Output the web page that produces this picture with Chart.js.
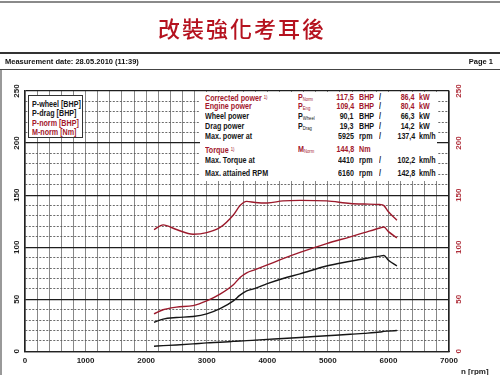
<!DOCTYPE html>
<html>
<head>
<meta charset="utf-8">
<script src="https://cdn.jsdelivr.net/npm/chart.js@4.4.1/dist/chart.umd.min.js"></script>
<style>
  html,body{margin:0;padding:0;background:#fff;}
  #wrap{position:relative;width:500px;height:375px;overflow:hidden;background:#fff;font-family:"Liberation Sans",Arial,sans-serif;}
  canvas{position:absolute;left:0;top:0;}
  .abs{position:absolute;white-space:nowrap;}
  .hl{position:absolute;left:0;width:500px;}
  .red{color:#a3182c;}
  .blk{color:#151515;}
  #title{position:absolute;left:0;width:484px;top:11px;text-align:center;font-family:"Noto Sans CJK TC","Noto Sans CJK SC",serif;font-size:22px;font-weight:500;letter-spacing:2px;color:#b5121f;}
  .hdr{font-size:7.5px;font-weight:bold;color:#111;top:57px;}
  #legend{position:absolute;left:28px;top:95px;width:55px;height:43px;background:#fff;border:1px solid #333;box-sizing:border-box;}
  #legend div{position:absolute;left:3px;white-space:nowrap;font-size:8.5px;line-height:9px;font-weight:bold;transform:scaleX(0.84);transform-origin:left center;}
  #table{position:absolute;left:200px;top:92px;width:237px;height:89px;background:#fff;}
  .t{position:absolute;white-space:nowrap;font-weight:bold;font-size:8.5px;line-height:10px;transform:scaleX(0.84);transform-origin:left center;}
  .t.r{text-align:right;transform-origin:right center;}
  .t sub{font-size:5px;vertical-align:-1px;font-weight:normal;}
  .t sup{font-size:5px;vertical-align:2px;font-weight:normal;}
  #nrpm{position:absolute;left:461px;top:367px;font-size:8px;font-weight:bold;color:#222;}
</style>
</head>
<body>
<div id="wrap">
  <canvas id="c" width="500" height="375"></canvas>
  <div class="hl" style="top:1px;height:2px;background:#8a8a8a;"></div>
  <div id="title">改裝強化考耳後</div>
  <div class="hl" style="top:52px;height:2px;background:#333;"></div>
  <div class="abs hdr" style="left:5px;">Measurement date: 28.05.2010 (11:39)</div>
  <div class="abs hdr" style="right:7px;">Page 1</div>
  <div class="hl" style="top:69px;height:1px;background:#444;"></div>
  <div style="position:absolute;left:0;top:70px;width:2px;height:305px;background:#999;"></div>
  <div id="legend"></div>
  <div id="table"></div>
  <div id="nrpm">n [rpm]</div>
</div>
<script>
// ---- data ----
const rpm      = [2130, 2280, 2500, 2775, 3000, 3220, 3440, 3550, 3660, 3800, 4000, 4260, 4540, 4980, 5370, 5600, 5860, 5925, 6000, 6140];
const pWheel   = [28, 31, 32.5, 33.5, 36, 41, 48.5, 54, 58, 60.5, 65, 70, 74.5, 82, 86.5, 89, 91.5, 92, 87.5, 82];
const pDrag    = [5, 5.5, 6.2, 7.2, 8.2, 8.8, 9.6, 10, 10.3, 10.8, 11.5, 12.4, 13.4, 15, 16.4, 17.3, 18.6, 19.2, 19.5, 20];
const pNorm    = [36, 40, 42.5, 44, 48.5, 55, 64, 71, 75.5, 78.5, 83, 89, 95, 103.5, 110, 114, 118.5, 119.5, 115, 109];
const mNorm    = [117, 121.5, 117, 112.5, 114, 119, 131, 140, 144, 143, 142.5, 144.5, 145, 144.5, 142, 141.5, 141, 140, 134, 126];
const xTickLabels = [0, 1000, 2000, 3000, 4000, 5000, 6000, 7000];
const yTickLabels = [0, 50, 100, 150, 200, 250];
const legendNames = ["P-wheel [BHP]", "P-drag [BHP]", "P-norm [BHP]", "M-norm [Nm]"];
const legendRed   = [false, false, true, true];
// results table: label, symbol, subscript, value1, unit1, value2, unit2, red, footnote
const tableRows = [
  ["Corrected power", "P", "Norm", "117,5", "BHP", "86,4", "kW", true, true],
  ["Engine power", "P", "Eng", "109,4", "BHP", "80,4", "kW", true, false],
  ["Wheel power", "P", "Wheel", "90,1", "BHP", "66,3", "kW", false, false],
  ["Drag power", "P", "Drag", "19,3", "BHP", "14,2", "kW", false, false],
  ["Max. power at", "", "", "5925", "rpm", "137,4", "km/h", false, false],
  ["Torque", "M", "Norm", "144,8", "Nm", "", "", true, true],
  ["Max. Torque at", "", "", "4410", "rpm", "102,2", "km/h", false, false],
  ["Max. attained RPM", "", "", "6160", "rpm", "142,8", "km/h", false, false]
];
const rowY = [97, 106, 116, 126, 136, 149, 160, 173];

// ---- overlays ----
const leg = document.getElementById('legend');
legendNames.forEach((n, i) => {
  const d = document.createElement('div');
  d.textContent = n;
  d.className = legendRed[i] ? 'red' : 'blk';
  d.style.top = (3.5 + i * 9.6) + 'px';
  leg.appendChild(d);
});
const tb = document.getElementById('table');
const T0x = 200, T0y = 92;
function put(txt, x, y, cls, right, html) {
  const d = document.createElement('div');
  d.className = 't ' + cls + (right ? ' r' : '');
  if (html) d.innerHTML = txt; else d.textContent = txt;
  d.style.top = (y - T0y - 5) + 'px';
  if (right) { d.style.right = (T0x + 237 - x) + 'px'; } else { d.style.left = (x - T0x) + 'px'; }
  tb.appendChild(d);
}
tableRows.forEach((r, i) => {
  const y = rowY[i];
  const c = r[7] ? 'red' : 'blk';
  put(r[0] + (r[8] ? ' <sup>1)</sup>' : ''), 205, y, c, false, true);
  if (r[1]) put(r[1] + '<sub>' + r[2] + '</sub>', 298, y, c, false, true);
  put(r[3], 354, y, c, true);
  put(r[4], 359, y, c, false);
  if (r[5]) {
    put('/', 379, y, 'blk', false);
    put(r[5], 415, y, c, true);
    put(r[6], 419, y, c, false);
  }
});

// ---- chart ----
const RED = '#9c1a2c', BLK = '#161616';
const pts = arr => rpm.map((r, i) => ({ x: r, y: arr[i] }));

const axisLabelPlugin = {
  id: 'axisLabels',
  afterDraw(chart) {
    const ctx = chart.ctx;
    const ys = chart.scales.y;
    ctx.save();
    ctx.font = 'bold 8px "Liberation Sans", Arial, sans-serif';
    ctx.textAlign = 'center';
    ctx.textBaseline = 'middle';
    yTickLabels.forEach(v => {
      const py = ys.getPixelForValue(v);
      ctx.save(); ctx.translate(17, py); ctx.rotate(-Math.PI / 2);
      ctx.fillStyle = '#1c1c1c'; ctx.fillText(String(v), 0, 0); ctx.restore();
      ctx.save(); ctx.translate(459, py); ctx.rotate(-Math.PI / 2);
      ctx.fillStyle = '#b0303c'; ctx.fillText(String(v), 0, 0); ctx.restore();
    });
    ctx.restore();
  }
};

new Chart(document.getElementById('c'), {
  type: 'line',
  data: {
    datasets: [
      { label: legendNames[0], data: pts(pWheel), borderColor: BLK },
      { label: legendNames[1], data: pts(pDrag), borderColor: BLK },
      { label: legendNames[2], data: pts(pNorm), borderColor: RED },
      { label: legendNames[3], data: pts(mNorm), borderColor: RED, yAxisID: 'y2' }
    ].map(d => Object.assign(d, { borderWidth: 1.4, pointRadius: 0, fill: false, cubicInterpolationMode: 'monotone' }))
  },
  options: {
    responsive: false,
    animation: false,
    devicePixelRatio: 1,
    layout: { padding: { left: 25, right: 51, top: 91, bottom: 4 } },
    plugins: { legend: { display: false }, tooltip: { enabled: false } },
    scales: {
      x: {
        type: 'linear', min: 0, max: 7000,
        ticks: {
          stepSize: 200, autoSkip: false, maxRotation: 0, minRotation: 0, padding: 5,
          color: '#1c1c1c', font: { size: 8, weight: 'bold', family: '"Liberation Sans", Arial' },
          callback: v => (xTickLabels.includes(v) ? String(v) : '')
        },
        grid: { color: '#7a7a7a', lineWidth: 0.9, drawTicks: false },
        border: { color: '#222', width: 1.3 }
      },
      y: {
        min: 0, max: 250,
        ticks: { stepSize: 10, display: false },
        grid: {
          drawTicks: false,
          color: c => (c.tick && c.tick.value % 50 === 0 ? '#1e1e1e' : '#5a5a5a'),
          lineWidth: c => (c.tick && c.tick.value % 50 === 0 ? 1.3 : 0.9)
        },
        border: { color: '#222', width: 1.3, dash: c => (c.tick && c.tick.value % 50 !== 0 ? [2, 1.5] : []) }
      },
      y2: {
        position: 'right', min: 0, max: 250,
        ticks: { stepSize: 10, display: false },
        grid: { drawOnChartArea: false, drawTicks: false },
        border: { color: '#222', width: 1.3 }
      }
    }
  },
  plugins: [axisLabelPlugin]
});
</script>
</body>
</html>
